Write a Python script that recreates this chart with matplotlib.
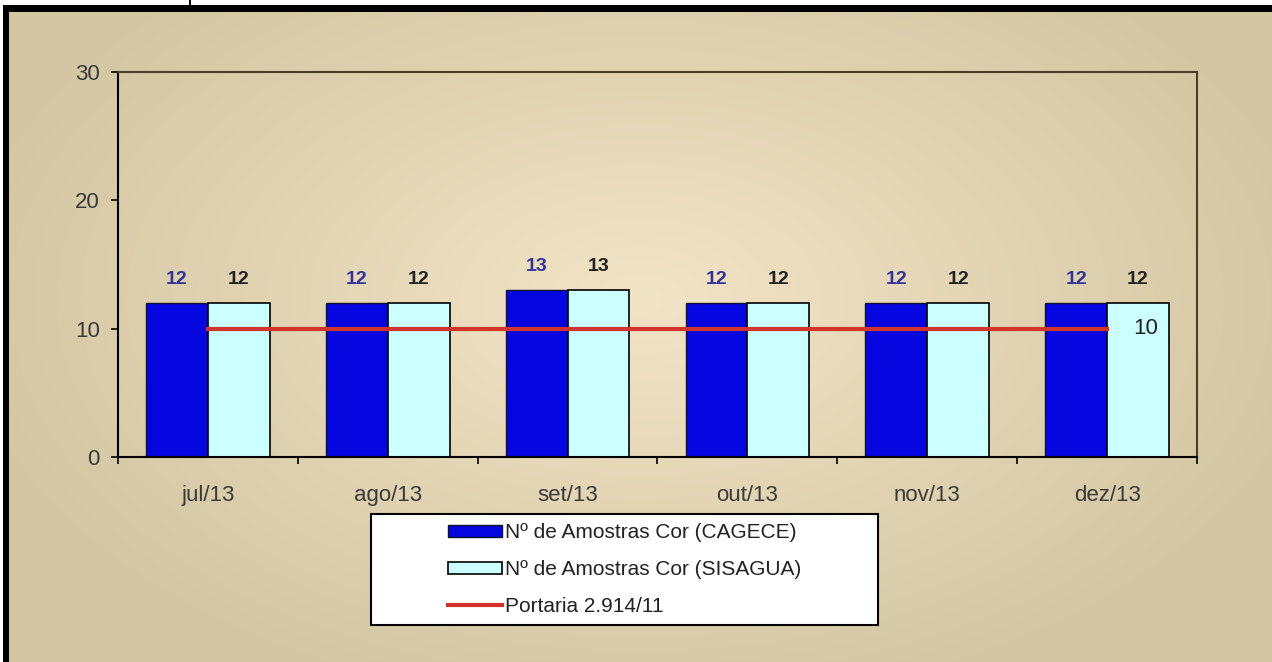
import numpy as np
import matplotlib
matplotlib.use("Agg")
import matplotlib.pyplot as plt
from matplotlib.patches import Rectangle

plt.rcParams['font.family'] = ['Liberation Sans', 'DejaVu Sans']

categories = ["jul/13", "ago/13", "set/13", "out/13", "nov/13", "dez/13"]
cagece = [12, 12, 13, 12, 12, 12]
sisagua = [12, 12, 13, 12, 12, 12]
portaria = [10, 10, 10, 10, 10, 10]
yticks = [0, 10, 20, 30]
labels = ["Nº de Amostras Cor (CAGECE)", "Nº de Amostras Cor (SISAGUA)", "Portaria 2.914/11"]

W, H = 1272, 662
fig = plt.figure(figsize=(W / 100, H / 100), dpi=100)

# background gradient
bg = fig.add_axes([0, 0, 1, 1], zorder=-10)
yy, xx = np.mgrid[0:H, 0:W]
cx, cy = 640, 300
d = np.sqrt(((xx - cx) / 700.0) ** 2 + ((yy - cy) / 420.0) ** 2)
d = np.clip(d, 0, 1)
c0 = np.array([0xF2, 0xE4, 0xC6]) / 255.0
c1 = np.array([0xD3, 0xC6, 0xA2]) / 255.0
img = c0[None, None, :] * (1 - d[..., None]) + c1[None, None, :] * d[..., None]
bg.imshow(img, extent=[0, W, H, 0], aspect='auto', interpolation='bilinear')
bg.set_xlim(0, W)
bg.set_ylim(H, 0)
bg.axis('off')
# white strip at top and black frame
bg.add_patch(Rectangle((0, 0), W, 5, facecolor='white', edgecolor='none'))
bg.add_patch(Rectangle((0, 0), 3, H, facecolor='white', edgecolor='none'))
bg.add_patch(Rectangle((3, 5), W, 7, facecolor='black', edgecolor='none'))
bg.add_patch(Rectangle((3, 5), 6, H, facecolor='black', edgecolor='none'))
bg.add_patch(Rectangle((189, 0), 2, 5, facecolor='black', edgecolor='none'))

# legend box
bg.add_patch(Rectangle((371, 514), 507, 111, facecolor='white', edgecolor='black', linewidth=1.5))

ax = fig.add_axes([118 / W, (H - 457) / H, 1079 / W, 385 / H])
ax.patch.set_alpha(0)

x = np.arange(len(categories))
bw = 0.344
b1 = ax.bar(x - bw / 2, cagece, bw, color='#0505E0', edgecolor='#101030', linewidth=1, zorder=2)
b2 = ax.bar(x + bw / 2, sisagua, bw, color='#CCFFFF', edgecolor='black', linewidth=1.2, zorder=2)
ln, = ax.plot(x, portaria, color='#D0342A', linewidth=3, zorder=3)

for xi, v in zip(x, cagece):
    ax.annotate(str(v), (xi - bw / 2, v), xytext=(0, 17), textcoords='offset points',
                ha='center', va='center', fontsize=14, fontweight='bold', color='#333399')
for xi, v in zip(x, sisagua):
    ax.annotate(str(v), (xi + bw / 2, v), xytext=(0, 17), textcoords='offset points',
                ha='center', va='center', fontsize=14, fontweight='bold', color='#222222')
ax.annotate(str(portaria[-1]), (x[-1], portaria[-1]), xytext=(28, 0), textcoords='offset points',
            ha='center', va='center', fontsize=16, color='#222222')

ax.set_xlim(-0.5, len(categories) - 0.5)
ax.set_ylim(0, 30)
ax.set_yticks(yticks)
ax.set_yticklabels([str(t) for t in yticks], fontsize=16, color='#3a3a3a')
ax.set_xticks(np.arange(-0.5, len(categories), 1.0))
ax.set_xticklabels([])
ax.set_xticks(x, minor=True)
ax.set_xticklabels(categories, minor=True, fontsize=16, color='#3a3a3a')
ax.tick_params(axis='x', which='minor', length=0, pad=20)
ax.tick_params(axis='x', which='major', direction='out', length=5, width=1.2, color='black')
ax.tick_params(axis='y', direction='out', length=5, width=1.2, color='black', pad=8)
for s in ['left', 'bottom']:
    ax.spines[s].set_color('black')
    ax.spines[s].set_linewidth(1.5)
for s in ['top', 'right']:
    ax.spines[s].set_color('#4a3f22')
    ax.spines[s].set_linewidth(1.5)

leg = fig.legend([b1, b2, ln], labels, loc='center',
                 bbox_to_anchor=((371 + 878) / 2 / W, 1 - (514 + 625) / 2 / H),
                 frameon=False, fontsize=15, handlelength=2.6, handleheight=0.5,
                 handletextpad=0.15, labelspacing=0.85)
for t in leg.get_texts():
    t.set_color('#222222')

fig.savefig('out.png', dpi=100)
